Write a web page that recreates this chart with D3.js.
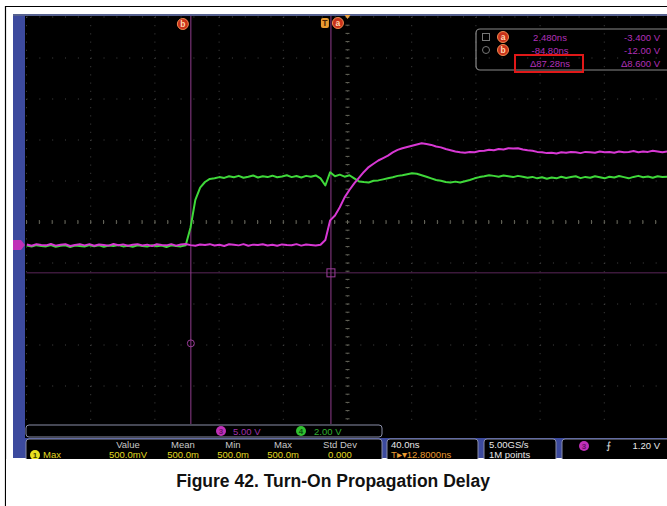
<!DOCTYPE html>
<html><head><meta charset="utf-8">
<script src="https://cdn.jsdelivr.net/npm/d3@7"></script>
<style>html,body{margin:0;padding:0;background:#fff;}svg{display:block;}</style>
</head><body>
<svg id="c" width="667" height="506"></svg>
<script>
// ---------------- data ----------------
const timeNs = [-187,-184,-181,-178,-175,-172,-169,-166,-163,-160,-157,-154,-151,-148,-145,-142,-139,-136,-133,-130,
-127,-124,-121,-118,-115,-112,-109,-106,-103,-100,-97,-94,-91,-88,-85,-82,-79,-76,-73,-70,
-67,-64,-61,-58,-55,-52,-49,-46,-43,-40,-37,-34,-31,-28,-25,-22,-19,-16,-13,-10,
-7,-4,-1,2,5,8,11,14,17,20,23,26,29,32,35,38,41,44,47,50,
53,56,59,62,65,68,71,74,77,80,83,86,89,92,95,98,101,104,107,110,
113,116,119,122,125,128,131,134,137,140,143,146,149,152,155,158,161,164,167,170,
173,176,179,182,185,188,191,194,197,200,203,206,209,212];
// Channel 3 (magenta, output) volts
const ch3Volts = [0.05,-0.1,0.1,0.0,-0.05,0.12,-0.08,0.03,0.1,-0.12,0.0,0.08,-0.05,0.1,-0.1,0.05,0.0,-0.08,0.12,-0.03,
0.07,-0.1,0.02,0.1,-0.06,0.04,-0.12,0.08,0.0,-0.05,0.1,-0.08,0.05,0.12,-0.02,-0.1,0.06,0.0,0.1,-0.07,
0.03,-0.12,0.08,0.02,-0.05,0.1,-0.1,0.04,0.0,0.09,-0.06,0.02,-0.1,0.07,0.0,-0.04,0.1,-0.08,0.05,0.0,
-0.06,0.02,0.6,3.0,3.6,4.6,5.8,6.7,7.5,8.2,8.9,9.5,9.9,10.3,10.6,10.9,11.3,11.6,11.8,11.95,
12.1,12.25,12.4,12.3,12.2,12.0,11.9,11.7,11.55,11.4,11.3,11.25,11.35,11.3,11.45,11.5,11.6,11.55,11.7,11.65,
11.8,11.75,11.8,11.65,11.55,11.5,11.35,11.3,11.2,11.25,11.15,11.3,11.25,11.35,11.3,11.2,11.35,11.3,11.25,11.4,
11.3,11.35,11.25,11.4,11.3,11.35,11.45,11.3,11.4,11.35,11.5,11.4,11.3,11.4];
// Channel 4 (green, input) volts
const ch4Volts = [0.02,-0.03,0.04,0.0,-0.02,0.05,-0.04,0.01,0.03,-0.05,0.02,0.0,-0.03,0.04,-0.01,0.03,-0.04,0.02,0.0,0.05,
-0.02,0.01,-0.04,0.03,0.0,-0.03,0.04,-0.01,0.02,-0.05,0.03,0.0,-0.02,0.04,0.9,2.25,2.85,3.12,3.27,3.3,
3.36,3.32,3.4,3.35,3.42,3.33,3.38,3.44,3.34,3.4,3.36,3.43,3.35,3.39,3.45,3.36,3.41,3.34,3.42,3.38,
3.44,3.3,2.95,3.6,3.4,3.48,3.38,3.45,3.3,3.15,3.12,3.1,3.18,3.2,3.25,3.3,3.35,3.42,3.45,3.5,
3.55,3.52,3.45,3.38,3.3,3.22,3.18,3.12,3.1,3.14,3.1,3.16,3.22,3.3,3.36,3.4,3.45,3.42,3.38,3.44,
3.4,3.36,3.42,3.38,3.33,3.37,3.3,3.35,3.28,3.34,3.3,3.38,3.32,3.36,3.4,3.31,3.37,3.33,3.4,3.35,
3.3,3.38,3.34,3.41,3.36,3.3,3.37,3.42,3.35,3.39,3.33,3.4,3.36,3.38];

const timePerDivNs = 40, horizCenterNs = 12.8;
const ch3VoltsPerDiv = 5, ch3PosDiv = -0.56;
const ch4VoltsPerDiv = 2, ch4PosDiv = -0.585;
const cursorTimesNs = {a: 2.48, b: -84.8};
const cursorVolts = {a: -3.4, b: -12.0};
const readoutRows = [["a","2.480ns","-3.400 V"],["b","-84.80ns","-12.00 V"],["","Δ87.28ns","Δ8.600 V"]];
const measHeaders = ["Value","Mean","Min","Max","Std Dev"];
const measValues = ["500.0mV","500.0m","500.0m","500.0m","0.000"];
const caption = "Figure 42. Turn-On Propagation Delay";

// ---------------- drawing ----------------
const svg = d3.select("#c");
const L = 26.5, R = 668.5, T = 17, B = 427;
const x = d3.scaleLinear().domain([horizCenterNs - 5*timePerDivNs, horizCenterNs + 5*timePerDivNs]).range([L, R]);
const yDiv = d3.scaleLinear().domain([-5, 5]).range([B, T]);
const y3 = v => yDiv(v / ch3VoltsPerDiv + ch3PosDiv);
const y4 = v => yDiv(v / ch4VoltsPerDiv + ch4PosDiv);

// page frame
svg.append("line").attr("x1",5).attr("x2",667).attr("y1",6.5).attr("y2",6.5).attr("stroke","#000").attr("stroke-width",1.2);
svg.append("line").attr("x1",5.5).attr("x2",5.5).attr("y1",6).attr("y2",506).attr("stroke","#000").attr("stroke-width",1.2);

// scope screen
svg.append("rect").attr("x",13).attr("y",14).attr("width",654).attr("height",444).attr("fill","#000");
svg.append("rect").attr("x",13).attr("y",14).attr("width",12).attr("height",444).attr("fill","#3c4a9e");
svg.append("rect").attr("x",13).attr("y",14).attr("width",654).attr("height",2).attr("fill","#56618f");

svg.append("clipPath").attr("id","scr").append("rect").attr("x",25).attr("y",16).attr("width",642).attr("height",408);
const g = svg.append("g").attr("clip-path","url(#scr)");

// graticule
const divs = d3.range(-5, 6);
const vTimes = divs.map(d => horizCenterNs + d*timePerDivNs);
g.selectAll(".gv").data(vTimes).join("line")
  .attr("x1", d => x(d)).attr("x2", d => x(d)).attr("y1", T).attr("y2", B)
  .attr("stroke", "#444").attr("stroke-width",1).attr("stroke-dasharray","1,7.2");
g.selectAll(".gh").data(divs).join("line")
  .attr("x1", L).attr("x2", R).attr("y1", d => yDiv(d)).attr("y2", d => yDiv(d))
  .attr("stroke", "#444").attr("stroke-width",1).attr("stroke-dasharray","1,11.84");
// center ticks
const subV = d3.range(-25, 26).map(i => i/5);
g.selectAll(".tv").data(subV).join("line")
  .attr("x1", x(horizCenterNs)-2).attr("x2", x(horizCenterNs)+2)
  .attr("y1", d => yDiv(d)).attr("y2", d => yDiv(d)).attr("stroke","#66665a");
const subH = d3.range(-25, 26).map(i => horizCenterNs + i*timePerDivNs/5);
g.selectAll(".th").data(subH).join("line")
  .attr("x1", d => x(d)).attr("x2", d => x(d))
  .attr("y1", yDiv(0)-2).attr("y2", yDiv(0)+2).attr("stroke","#66665a");

// cursors
g.append("line").attr("x1",L).attr("x2",R).attr("y1",y3(cursorVolts.a)).attr("y2",y3(cursorVolts.a)).attr("stroke","#5a2658").attr("stroke-width",1);
["a","b"].forEach(k => {
  g.append("line").attr("x1",x(cursorTimesNs[k])).attr("x2",x(cursorTimesNs[k])).attr("y1",16).attr("y2",424)
   .attr("stroke","#8e3c8c").attr("stroke-width",1);
});
g.append("rect").attr("x",x(cursorTimesNs.a)-4).attr("y",y3(cursorVolts.a)-4).attr("width",8).attr("height",8)
 .attr("fill","none").attr("stroke","#9c3c9a");
g.append("circle").attr("cx",x(cursorTimesNs.b)).attr("cy",y3(cursorVolts.b)).attr("r",3.5)
 .attr("fill","none").attr("stroke","#9c3c9a");

// traces
const pts4 = timeNs.map((t,i)=>[t, ch4Volts[i]]);
const pts3 = timeNs.map((t,i)=>[t, ch3Volts[i]]);
g.append("path").datum(pts4).attr("fill","none").attr("stroke","#3fd83a").attr("stroke-width",2)
 .attr("stroke-linejoin","round")
 .attr("d", d3.line().x(d=>x(d[0])).y(d=>y4(d[1])));
g.append("path").datum(pts3).attr("fill","none").attr("stroke","#d838d4").attr("stroke-width",2)
 .attr("stroke-linejoin","round")
 .attr("d", d3.line().x(d=>x(d[0])).y(d=>y3(d[1])));

// top markers
function badge(cx, cy, label, fill) {
  svg.append("circle").attr("cx",cx).attr("cy",cy).attr("r",5.5).attr("fill",fill).attr("stroke","#f08a50").attr("stroke-width",1);
  svg.append("text").attr("x",cx).attr("y",cy+3).attr("text-anchor","middle").attr("font-family","Liberation Sans, Arial")
    .attr("font-size",8.5).attr("font-weight","bold").attr("fill","#ffd8b0").text(label);
}
badge(x(cursorTimesNs.b)-8, 24, "b", "#c8321a");
badge(x(cursorTimesNs.a)+7, 23, "a", "#c8321a");
svg.append("rect").attr("x",x(cursorTimesNs.a)-10).attr("y",18).attr("width",8).attr("height",10).attr("rx",2).attr("fill","#e89a30");
svg.append("text").attr("x",x(cursorTimesNs.a)-6).attr("y",26).attr("text-anchor","middle").attr("font-family","Liberation Sans, Arial")
  .attr("font-size",8.5).attr("font-weight","bold").attr("fill","#4a2000").text("T");
svg.append("path").attr("d",`M${x(horizCenterNs)-3},15 L${x(horizCenterNs)+3},15 L${x(horizCenterNs)},19 Z`).attr("fill","#e8a040");

// channel 3 ground marker on left
svg.append("path").attr("d",`M13,${y3(0)-5} L21,${y3(0)-5} L25,${y3(0)} L21,${y3(0)+5} L13,${y3(0)+5} Z`).attr("fill","#c030b8");

// cursor readout box
svg.append("rect").attr("x",476).attr("y",29).attr("width",196).attr("height",41).attr("rx",4)
  .attr("fill","none").attr("stroke","#8a8a8a").attr("stroke-width",1.2);
svg.append("rect").attr("x",482.5).attr("y",33.5).attr("width",7).attr("height",7).attr("fill","none").attr("stroke","#777");
svg.append("circle").attr("cx",486).attr("cy",50).attr("r",3.5).attr("fill","none").attr("stroke","#777");
readoutRows.forEach((r,i) => {
  const yy = 41 + i*13;
  if (r[0]) badge(503, yy-4, r[0], "#c8321a");
  svg.append("text").attr("x", 550).attr("y", yy).attr("text-anchor","middle").attr("font-family","Liberation Sans, Arial")
    .attr("font-size",9.5).attr("fill","#b030b8").text(r[1]);
  svg.append("text").attr("x", 660).attr("y", yy).attr("text-anchor","end").attr("font-family","Liberation Sans, Arial")
    .attr("font-size",9.5).attr("fill","#b030b8").text(r[2]);
});
svg.append("rect").attr("x",515).attr("y",55).attr("width",68).attr("height",17)
  .attr("fill","none").attr("stroke","#e01818").attr("stroke-width",2);

// bottom panels
const panelStroke = "#8a8ea8";
svg.append("rect").attr("x",13).attr("y",424).attr("width",654).attr("height",34).attr("fill","#3c4a9e");
svg.append("rect").attr("x",25).attr("y",424).attr("width",642).attr("height",14).attr("fill","#000");
svg.append("rect").attr("x",26).attr("y",425).attr("width",356).attr("height",12).attr("rx",3)
  .attr("fill","#000").attr("stroke",panelStroke);
[[26,356],[387,91],[484,72],[562,110]].forEach(([px,pw]) =>
  svg.append("rect").attr("x",px).attr("y",439).attr("width",pw).attr("height",22).attr("rx",3)
    .attr("fill","#000").attr("stroke",panelStroke));

function chip(cx, cy, fill, label, lblFill) {
  svg.append("circle").attr("cx",cx).attr("cy",cy).attr("r",5).attr("fill",fill);
  svg.append("text").attr("x",cx).attr("y",cy+3).attr("text-anchor","middle").attr("font-family","Liberation Sans, Arial")
    .attr("font-size",8).attr("font-weight","bold").attr("fill",lblFill).text(label);
}
const tf = "Liberation Sans, Arial";
chip(221, 431, "#c030b8", "3", "#6a106a");
svg.append("text").attr("x",233).attr("y",435).attr("font-family",tf).attr("font-size",9.5).attr("fill","#a030a8").text("5.00 V");
chip(301, 431, "#30c030", "4", "#0a500a");
svg.append("text").attr("x",314).attr("y",435).attr("font-family",tf).attr("font-size",9.5).attr("fill","#30b030").text("2.00 V");

const measX = [128,183,233,283,340];
measHeaders.forEach((h,i) => svg.append("text").attr("x",measX[i]).attr("y",448).attr("text-anchor","middle")
  .attr("font-family",tf).attr("font-size",9.5).attr("fill","#c8c8c8").text(h));
measValues.forEach((v,i) => svg.append("text").attr("x",measX[i]).attr("y",458).attr("text-anchor","middle")
  .attr("font-family",tf).attr("font-size",9.5).attr("fill","#e0d820").text(v));
chip(35, 455, "#e8e020", "1", "#404000");
svg.append("text").attr("x",43).attr("y",458).attr("font-family",tf).attr("font-size",9.5).attr("fill","#e0d820").text("Max");

svg.append("text").attr("x",391).attr("y",448).attr("font-family",tf).attr("font-size",9.5).attr("fill","#e8e8e8").text("40.0ns");
svg.append("text").attr("x",391).attr("y",458).attr("font-family",tf).attr("font-size",9.5).attr("fill","#e89a30").text("T▸▾12.8000ns");
svg.append("text").attr("x",489).attr("y",448).attr("font-family",tf).attr("font-size",9.5).attr("fill","#e8e8e8").text("5.00GS/s");
svg.append("text").attr("x",489).attr("y",458).attr("font-family",tf).attr("font-size",9.5).attr("fill","#e8e8e8").text("1M points");
chip(584, 446, "#c030b8", "3", "#6a106a");
svg.append("text").attr("x",606).attr("y",449).attr("font-family",tf).attr("font-size",10).attr("fill","#e8e8e8").text("⨍");
svg.append("text").attr("x",660).attr("y",449).attr("text-anchor","end").attr("font-family",tf).attr("font-size",9.5).attr("fill","#e8e8e8").text("1.20 V");
// white area below the screen (panels appear cut at screen bottom)
svg.append("rect").attr("x",6).attr("y",459).attr("width",661).attr("height",47).attr("fill","#fff");

svg.append("text").attr("x",333).attr("y",487).attr("text-anchor","middle").attr("font-family","Liberation Sans, Arial")
  .attr("font-size",17.5).attr("font-weight","bold").attr("fill","#111").text(caption);
</script>
</body></html>
